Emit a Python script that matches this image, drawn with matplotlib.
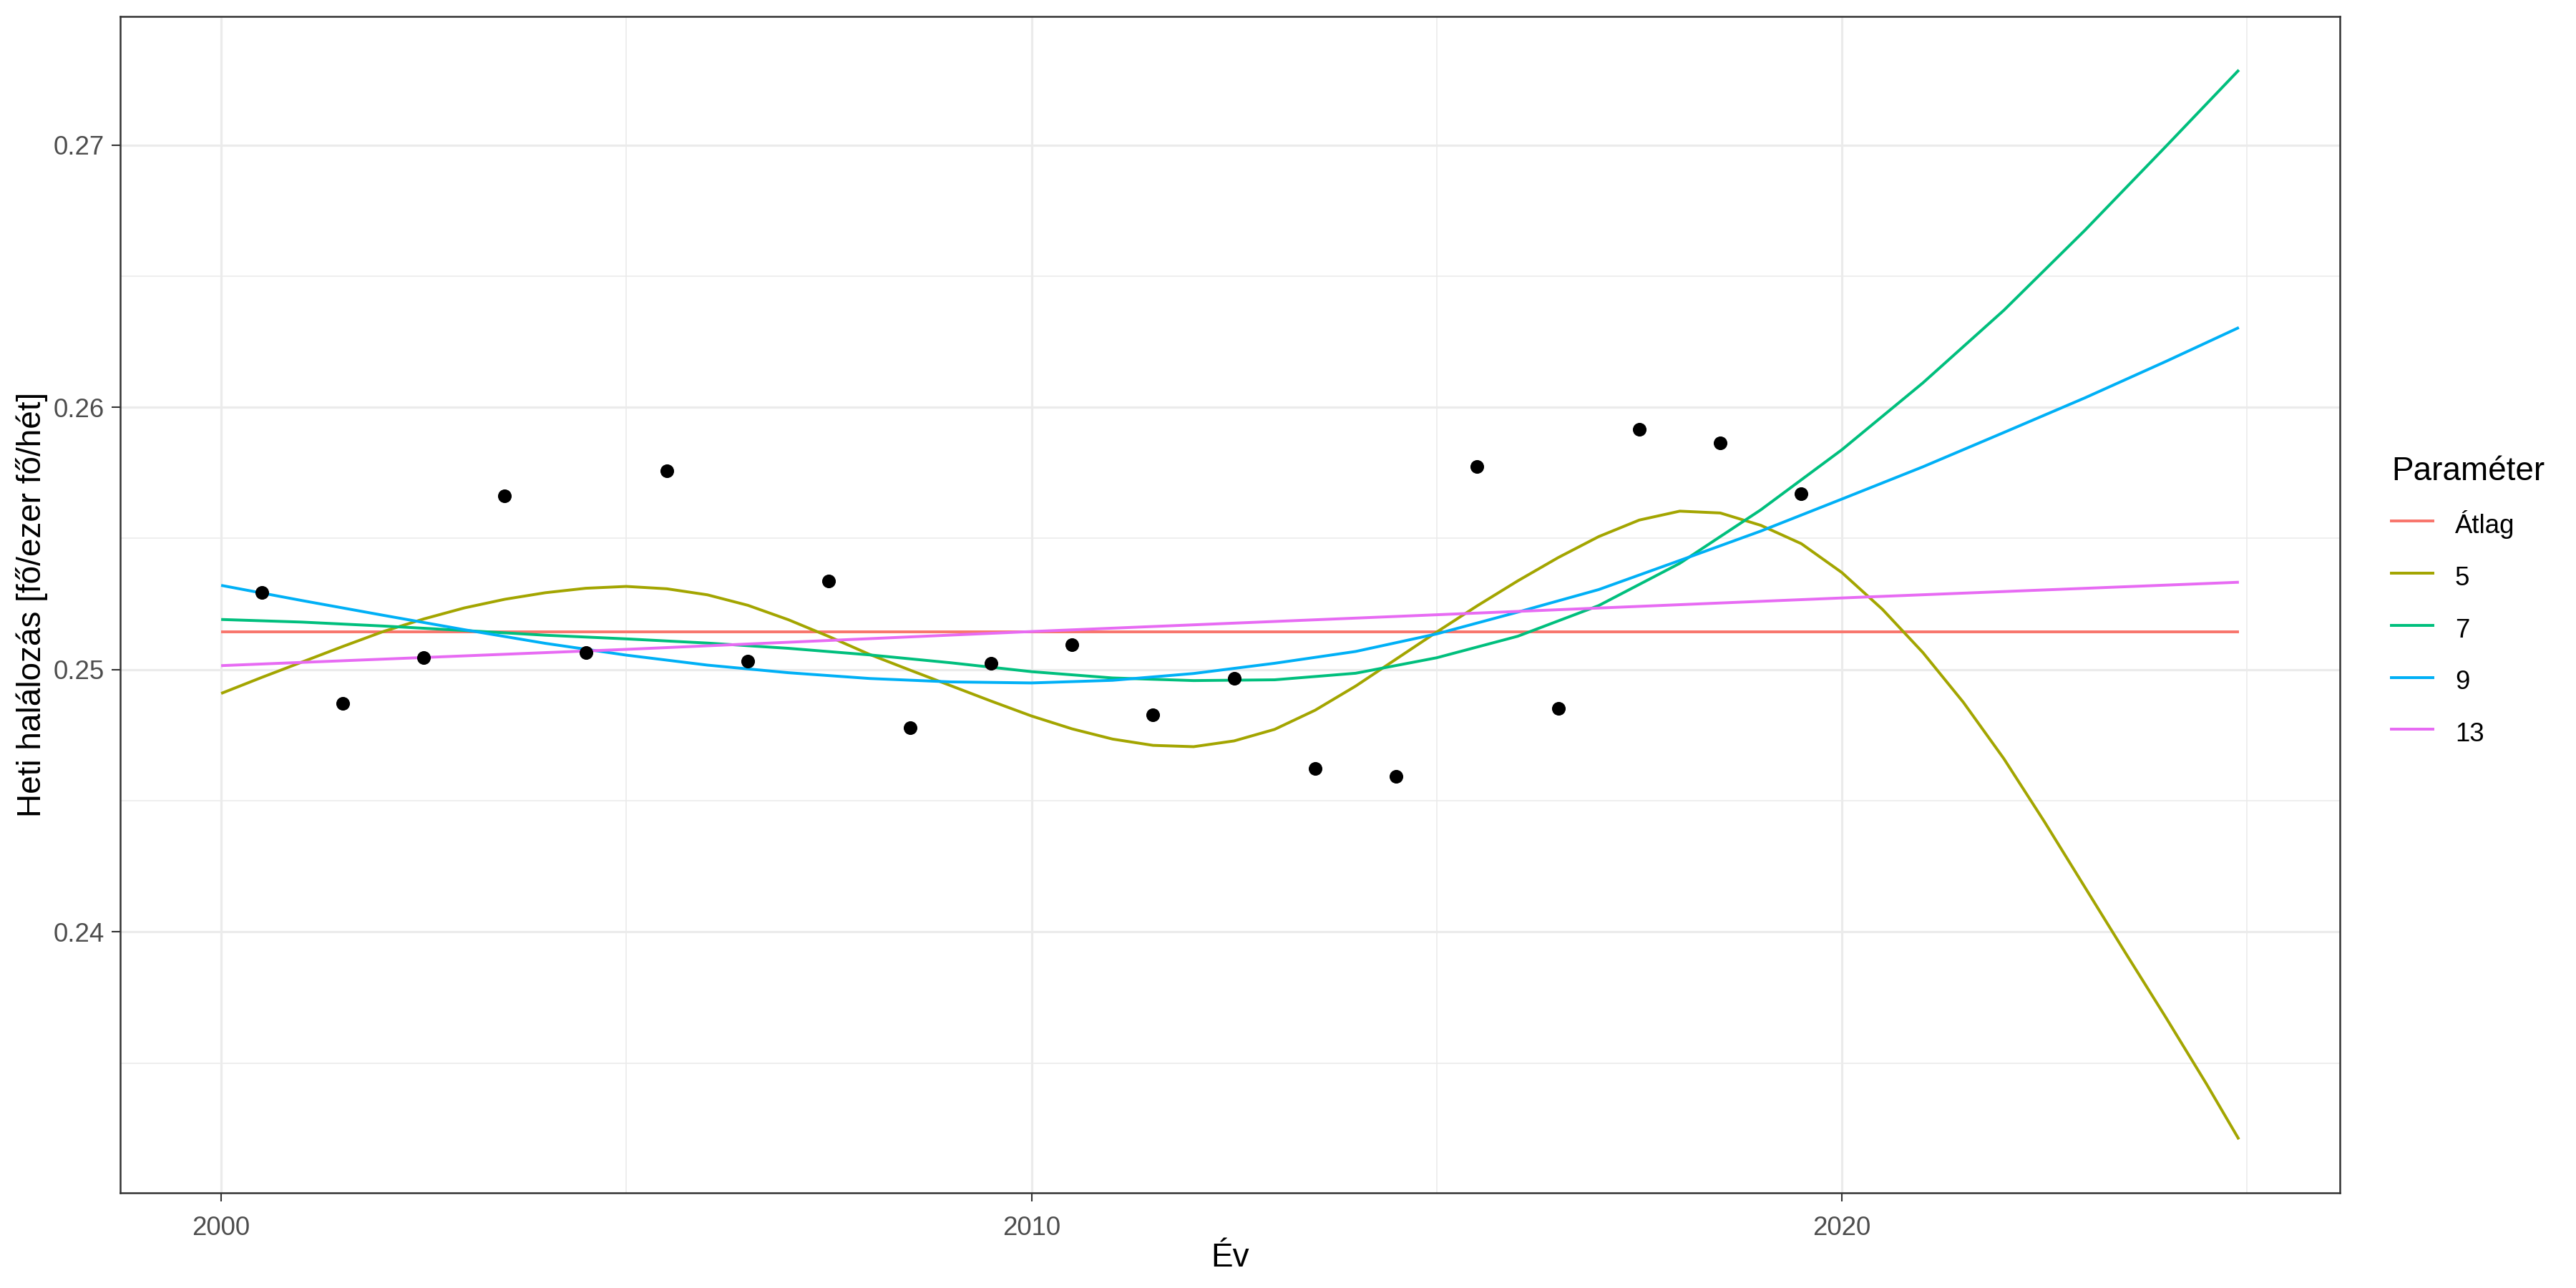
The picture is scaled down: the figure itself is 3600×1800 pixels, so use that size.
import matplotlib
matplotlib.use("Agg")
import matplotlib.pyplot as plt
from matplotlib.lines import Line2D

plt.rcParams['font.family'] = ['Liberation Sans', 'DejaVu Sans']

# observed yearly values (points)
obs_years = [2000.5, 2001.5, 2002.5, 2003.5, 2004.5, 2005.5, 2006.5, 2007.5, 2008.5, 2009.5,
             2010.5, 2011.5, 2012.5, 2013.5, 2014.5, 2015.5, 2016.5, 2017.5, 2018.5, 2019.5]
obs_vals = [0.25293, 0.24872, 0.25047, 0.25662, 0.25065, 0.25757, 0.25031, 0.25338, 0.24778, 0.25025,
            0.25094, 0.24828, 0.24966, 0.24622, 0.24593, 0.25775, 0.24851, 0.25915, 0.25865, 0.25671]

# fitted curves
mean_years = [2000, 2024.9]
mean_vals = [0.25143, 0.25143]

fit5_years = [2000, 2000.5, 2001, 2001.5, 2002, 2002.5, 2003, 2003.5, 2004, 2004.5,
              2005, 2005.5, 2006, 2006.5, 2007, 2007.5, 2008, 2008.5, 2009, 2009.5,
              2010, 2010.5, 2011, 2011.5, 2012, 2012.5, 2013, 2013.5, 2014, 2014.5,
              2015, 2015.5, 2016, 2016.5, 2017, 2017.5, 2018, 2018.5, 2019, 2019.5,
              2020, 2020.5, 2021, 2021.5, 2022, 2022.5, 2023, 2023.5, 2024, 2024.5, 2024.9]
fit5_vals = [0.24909, 0.24970, 0.25029, 0.25088, 0.25145, 0.25193, 0.25235, 0.25268, 0.25293, 0.25310,
             0.25317, 0.25308, 0.25285, 0.25245, 0.25190, 0.25126, 0.25058, 0.24998, 0.24939, 0.24880,
             0.24823, 0.24774, 0.24735, 0.24711, 0.24706, 0.24728, 0.24772, 0.24845, 0.24937, 0.25040,
             0.25143, 0.25243, 0.25338, 0.25427, 0.25507, 0.25570, 0.25604, 0.25597, 0.25550, 0.25480,
             0.25370, 0.25230, 0.25065, 0.24875, 0.24660, 0.24420, 0.24170, 0.23920, 0.23673, 0.23420,
             0.23209]

fit_years = [2000, 2001, 2002, 2003, 2004, 2005, 2006, 2007, 2008, 2009, 2010, 2011, 2012,
             2013, 2014, 2015, 2016, 2017, 2018, 2019, 2020, 2021, 2022, 2023, 2024, 2024.9]
fit7_vals = [0.25191, 0.25181, 0.25166, 0.25149, 0.25131, 0.25117, 0.25101, 0.25081, 0.25056,
             0.25026, 0.24992, 0.24968, 0.24958, 0.24961, 0.24986, 0.25045, 0.25127, 0.25244,
             0.25405, 0.25609, 0.25838, 0.26093, 0.26370, 0.26675, 0.26995, 0.27286]
fit9_vals = [0.25321, 0.25263, 0.25207, 0.25152, 0.25100, 0.25055, 0.25017, 0.24988, 0.24966,
             0.24953, 0.24949, 0.24959, 0.24985, 0.25024, 0.25069, 0.25136, 0.25219, 0.25305,
             0.25416, 0.25528, 0.25650, 0.25773, 0.25904, 0.26036, 0.26175, 0.26304]

fit13_years = [2000, 2005, 2010, 2015, 2020, 2024.9]
fit13_vals = [0.25015, 0.25077, 0.25145, 0.25209, 0.25273, 0.25333]

labels = ['Átlag', '5', '7', '9', '13']
colors = ['#F8766D', '#A3A500', '#00BF7D', '#00B0F6', '#E76BF3']

fig = plt.figure(figsize=(12, 6), dpi=300)
ax = fig.add_axes([0.0467, 0.0739, 0.8616, 0.9133])

series = [(mean_years, mean_vals), (fit5_years, fit5_vals), (fit_years, fit7_vals),
          (fit_years, fit9_vals), (fit13_years, fit13_vals)]
for (xs, ys), lab, col in zip(series, labels, colors):
    ax.plot(xs, ys, color=col, lw=0.95, label=lab, solid_capstyle='butt',
            solid_joinstyle='round', zorder=3)

ax.scatter(obs_years, obs_vals, s=21, color='black', linewidths=0, zorder=4)

ax.set_xlim(1998.755, 2026.145)
ax.set_ylim(0.23005, 0.2749)
ax.set_xticks([2000, 2010, 2020])
ax.set_xticks([2005, 2015, 2025], minor=True)
ax.set_yticks([0.24, 0.25, 0.26, 0.27])
ax.set_yticks([0.235, 0.245, 0.255, 0.265], minor=True)
ax.set_yticklabels(['0.24', '0.25', '0.26', '0.27'])

ax.grid(which='major', color='#EBEBEB', lw=0.75, zorder=0)
ax.grid(which='minor', color='#EBEBEB', lw=0.4, zorder=0)
ax.set_axisbelow(True)
ax.tick_params(which='major', length=2.9, width=0.5, color='#333333',
               labelsize=8.8, labelcolor='#4D4D4D', pad=2.5)
ax.tick_params(axis='x', which='major', pad=4.7)
ax.tick_params(which='minor', length=0)
for sp in ax.spines.values():
    sp.set_color('#333333')
    sp.set_linewidth(0.6)

ax.set_xlabel('Év', fontsize=11, labelpad=0.5)
ax.set_ylabel('Heti halálozás [fő/ezer fő/hét]', fontsize=11, labelpad=1.8)

handles = [Line2D([0], [0], color=c, lw=0.95) for c in colors]
leg = fig.legend(handles, labels, title='Paraméter', loc='upper left',
                 bbox_to_anchor=(0.9283, 0.646), frameon=False, fontsize=8.8,
                 title_fontsize=11, handlelength=1.58, handletextpad=0.85,
                 handleheight=1.4, labelspacing=0.83, borderpad=0, borderaxespad=0,
                 alignment='left')

fig.savefig('out.png', dpi=300, facecolor='white')
